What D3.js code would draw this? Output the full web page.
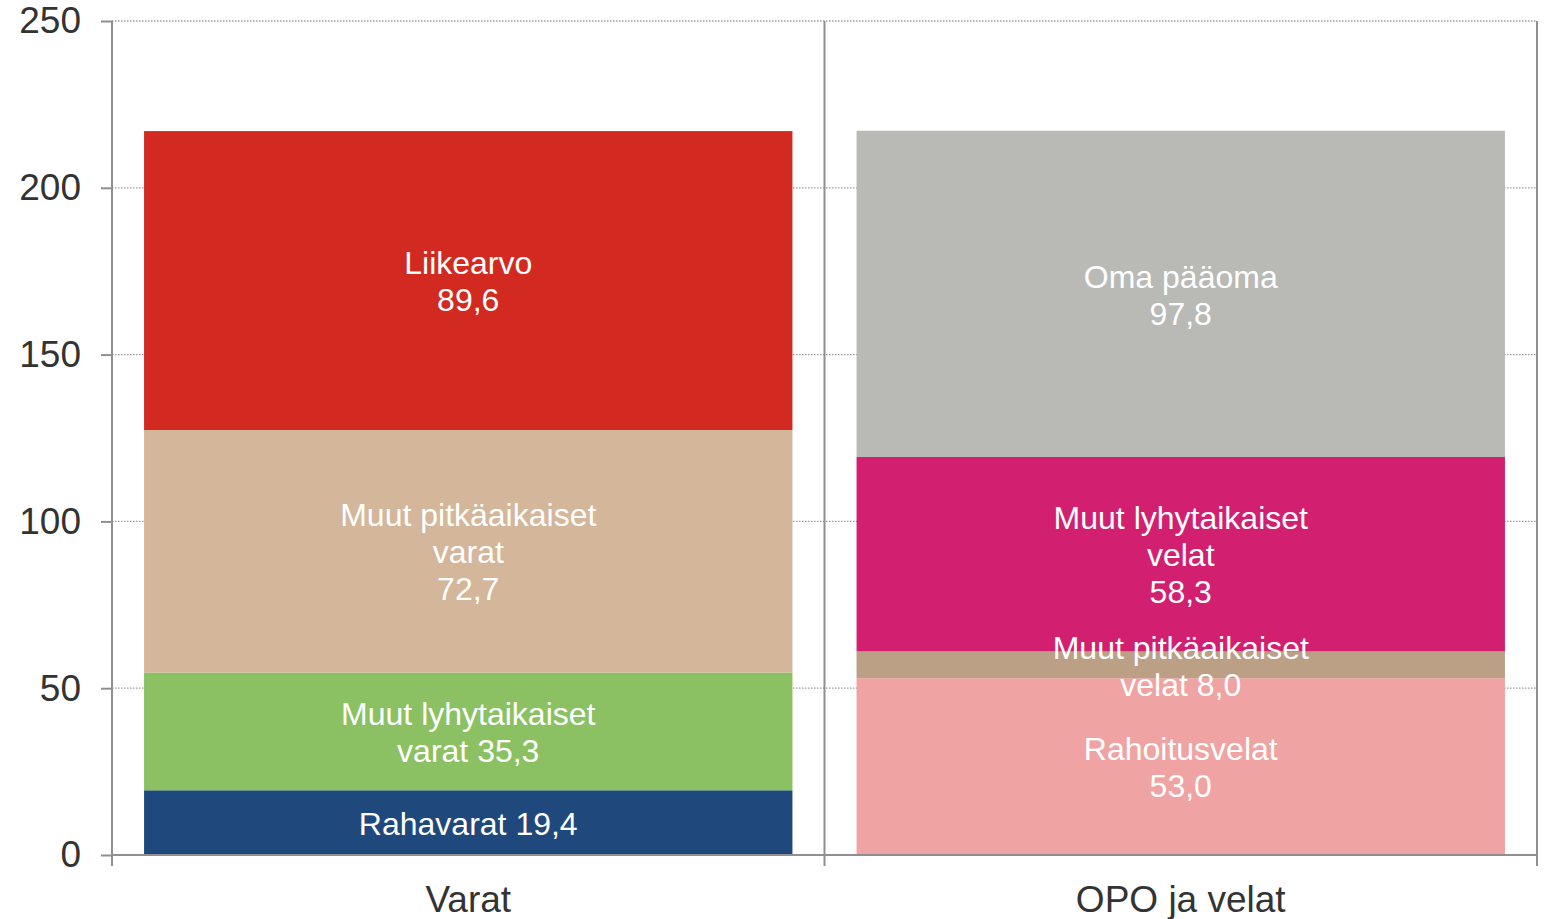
<!DOCTYPE html>
<html>
<head>
<meta charset="utf-8">
<script src="https://cdn.jsdelivr.net/npm/d3@7"></script>
<style>
  body { margin: 0; background: #fff; }
  svg { display: block; font-family: "Liberation Sans", Arial, sans-serif; }
</style>
</head>
<body>
<div id="chart"></div>
<script>
// data
const categories = ["Varat", "OPO ja velat"];

const varatNames = ["Rahavarat", "Muut lyhytaikaiset varat", "Muut pitkäaikaiset varat", "Liikearvo"];
const varatValues = [19.4, 35.3, 72.7, 89.6];
const varatLabels = [["Rahavarat {v}"], ["Muut lyhytaikaiset", "varat {v}"], ["Muut pitkäaikaiset", "varat", "{v}"], ["Liikearvo", "{v}"]];

const velatNames = ["Rahoitusvelat", "Muut pitkäaikaiset velat", "Muut lyhytaikaiset velat", "Oma pääoma"];
const velatValues = [53.0, 8.0, 58.3, 97.8];
const velatLabels = [["Rahoitusvelat", "{v}"], ["Muut pitkäaikaiset", "velat {v}"], ["Muut lyhytaikaiset", "velat", "{v}"], ["Oma pääoma", "{v}"]];

const yTicks = [0, 50, 100, 150, 200, 250];

const colors = {
  "Rahavarat": "#1f497d",
  "Muut lyhytaikaiset varat": "#8bc163",
  "Muut pitkäaikaiset varat": "#d4b69a",
  "Liikearvo": "#d22a21",
  "Rahoitusvelat": "#efa3a3",
  "Muut pitkäaikaiset velat": "#bca086",
  "Muut lyhytaikaiset velat": "#d21f70",
  "Oma pääoma": "#b9bab6"
};

const width = 1550, height = 919;
const margin = {top: 21, right: 13, bottom: 64, left: 112};

const svg = d3.select("#chart").append("svg")
  .attr("width", width)
  .attr("height", height);

let x = d3.scaleBand().domain(categories)
  .range([margin.left, width - margin.right])
  .paddingInner(0.09).paddingOuter(0.045);

let y = d3.scaleLinear().domain([0, 250]).range([height - margin.bottom, margin.top]);

let fmt = v => d3.format(".1f")(v).replace(".", ",");

// build stacked rows
function stackRows(cat, names, values, labels) {
  let acc = 0;
  return names.map((n, i) => {
    let r = {cat: cat, name: n, y0: acc, y1: acc + values[i],
      lines: labels[i].map(l => l.replace("{v}", fmt(values[i])))};
    acc += values[i];
    return r;
  });
}
let rows = stackRows("Varat", varatNames, varatValues, varatLabels)
  .concat(stackRows("OPO ja velat", velatNames, velatValues, velatLabels));

// gridlines
svg.append("g").selectAll("line")
  .data(yTicks.filter(t => t > 0))
  .enter().append("line")
  .attr("x1", margin.left).attr("x2", width - margin.right)
  .attr("y1", d => y(d)).attr("y2", d => y(d))
  .attr("stroke", "#9a9a9a").attr("stroke-width", 1.3)
  .attr("stroke-dasharray", "1.5,1.5");

// bars
svg.append("g").selectAll("rect")
  .data(rows)
  .enter().append("rect")
  .attr("x", d => x(d.cat))
  .attr("width", x.bandwidth())
  .attr("y", d => y(d.y1))
  .attr("height", d => y(d.y0) - y(d.y1))
  .attr("fill", d => colors[d.name]);

// segment labels
const lineH = 37;
let lab = svg.append("g").selectAll("text")
  .data(rows)
  .enter().append("text")
  .attr("text-anchor", "middle")
  .attr("fill", "#fff")
  .style("font-size", "32px")
  .attr("transform", d => {
    let cy = y((d.y0 + d.y1) / 2) - (d.lines.length - 1) * lineH / 2 + 1;
    return "translate(" + (x(d.cat) + x.bandwidth() / 2) + "," + cy + ")";
  });
lab.selectAll("tspan")
  .data(d => d.lines)
  .enter().append("tspan")
  .attr("x", 0)
  .attr("y", (d, i) => i * lineH)
  .attr("dy", "0.35em")
  .text(d => d);

// vertical separators at category boundaries
let step = x.step();
let bounds = [margin.left, margin.left + step, width - margin.right];
svg.append("g").selectAll("line")
  .data(bounds)
  .enter().append("line")
  .attr("x1", d => d).attr("x2", d => d)
  .attr("y1", margin.top).attr("y2", y(0) + 11)
  .attr("stroke", "#8f8f8f").attr("stroke-width", 2);

// bottom axis line
svg.append("line")
  .attr("x1", margin.left).attr("x2", width - margin.right)
  .attr("y1", y(0)).attr("y2", y(0))
  .attr("stroke", "#8f8f8f").attr("stroke-width", 2);

// y axis
let yAxis = d3.axisLeft(y).tickValues(yTicks).tickSize(11).tickPadding(20).tickFormat(d3.format("d"));
let ya = svg.append("g")
  .attr("transform", "translate(" + margin.left + ",0)")
  .call(yAxis);
ya.select(".domain").remove();
ya.selectAll(".tick line").attr("stroke", "#8f8f8f").attr("stroke-width", 2);
ya.selectAll(".tick text")
  .attr("fill", "#333")
  .style("font-size", "37px")
  .style("font-family", "'Liberation Sans', Arial, sans-serif");

// category labels
svg.append("g").selectAll("text")
  .data(categories)
  .enter().append("text")
  .attr("x", d => x(d) + x.bandwidth() / 2)
  .attr("y", 899)
  .attr("dy", "0.35em")
  .attr("text-anchor", "middle")
  .attr("fill", "#333")
  .style("font-size", "37px")
  .text(d => d);
</script>
</body>
</html>
